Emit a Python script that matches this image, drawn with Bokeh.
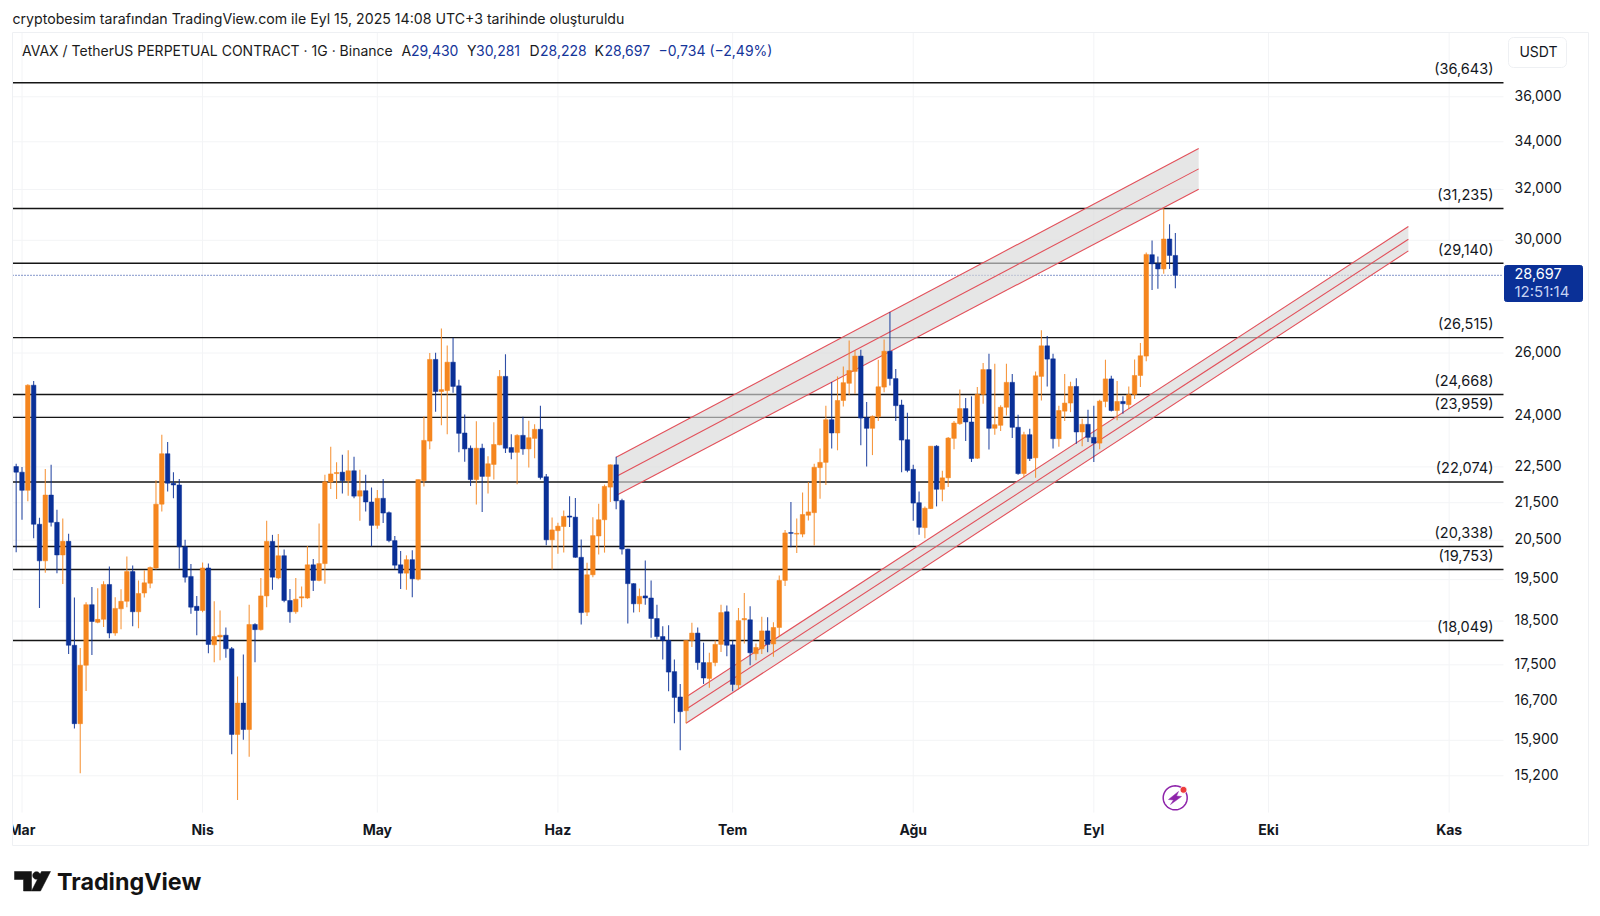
import numpy as np
from bokeh.plotting import figure
from bokeh.core.properties import value
from bokeh.models import (Range1d, FixedTicker, Label, BoxAnnotation, PolyAnnotation,
                          ColumnDataSource, LogScale)
from bokeh.embed import file_html
from bokeh.resources import INLINE

opens = [
22.51,22.35,21.84,24.96,20.92,19.97,21.71,20.97,20.12,20.47,
17.94,16.24,17.49,18.89,18.47,18.54,19.38,18.22,18.79,18.97,
19.70,18.72,19.17,19.41,19.79,21.46,22.88,22.04,21.99,20.33,
19.58,18.85,18.75,19.79,17.95,18.13,18.17,17.86,16.02,16.67,
16.12,18.42,18.30,19.10,20.47,19.54,20.10,18.99,18.72,19.05,
19.05,19.87,19.48,19.90,22.07,22.31,22.35,22.11,22.39,21.68,
21.83,21.52,20.89,21.62,21.23,20.49,19.87,19.66,20.00,19.51,
22.11,23.25,25.79,24.76,24.79,25.70,24.94,23.49,23.04,22.14,
23.04,22.23,22.57,23.14,25.24,23.06,22.92,23.42,23.02,23.33,
23.60,22.22,20.51,20.75,20.86,21.14,21.11,20.06,18.71,19.62,
20.61,21.04,21.93,22.56,21.56,20.27,19.40,18.91,19.10,19.05,
18.56,18.14,18.05,17.35,16.80,16.51,18.05,18.22,17.55,17.20,
17.55,17.96,18.72,17.95,17.06,18.53,18.53,17.75,17.86,18.27,
17.97,18.35,19.48,20.70,20.66,20.66,21.16,21.23,22.48,22.63,
23.89,23.49,24.48,25.02,25.40,25.90,23.95,23.63,23.98,24.90,
26.06,25.17,24.34,23.29,22.43,21.50,20.83,21.34,23.10,21.87,
22.19,23.33,23.77,24.23,23.82,22.75,24.67,25.46,23.63,23.72,
24.27,25.05,23.66,22.31,23.44,22.76,25.24,26.24,25.81,23.32,
24.15,24.40,24.92,23.52,23.75,23.36,23.19,24.45,25.16,24.17,
24.45,24.35,24.67,25.27,25.90,29.46,29.12,28.93,30.05,29.43]

closes = [
22.35,21.84,24.96,20.92,19.97,21.71,20.97,20.12,20.47,17.94,
16.24,17.49,18.89,18.49,18.54,19.38,18.22,18.80,18.97,19.70,
18.72,19.16,19.42,19.80,21.46,22.88,22.04,21.99,20.33,19.56,
18.83,18.75,19.79,17.96,18.14,18.17,17.86,16.02,16.67,16.12,
18.42,18.30,19.10,20.47,19.56,20.10,18.99,18.72,19.02,19.08,
19.87,19.48,19.90,22.08,22.30,22.34,22.11,22.39,21.68,21.83,
21.52,20.89,21.62,21.22,20.49,19.86,19.66,20.00,19.52,22.14,
23.27,25.79,24.76,24.82,25.70,24.92,23.48,23.02,22.14,23.04,
22.23,22.59,23.15,25.24,23.04,22.92,23.42,23.02,23.35,23.60,
22.20,20.51,20.77,20.87,21.13,21.11,20.06,18.70,19.62,20.62,
21.04,21.95,22.56,21.55,20.27,19.40,18.91,19.09,19.05,18.56,
18.14,18.05,17.34,16.79,16.49,18.05,18.22,17.55,17.21,17.55,
17.96,18.70,17.94,17.07,18.51,18.56,17.77,17.89,18.27,17.96,
18.35,19.48,20.69,20.68,20.68,21.18,21.25,22.49,22.63,23.89,
23.49,24.48,25.04,25.43,25.90,23.94,23.63,23.99,24.91,26.06,
25.17,24.32,23.28,22.40,21.49,20.84,21.35,23.10,21.87,22.19,
23.34,23.79,24.23,23.82,22.74,24.67,25.46,23.63,23.74,24.27,
25.05,23.66,22.31,23.44,22.74,25.26,26.24,25.80,23.32,24.17,
24.40,24.92,23.52,23.75,23.36,23.19,24.46,25.16,24.17,24.45,
24.38,24.66,25.27,25.91,29.47,29.12,28.93,30.05,29.43,28.70]

highs = [
22.59,22.50,24.99,25.09,21.09,22.44,22.56,21.31,21.07,20.67,
19.06,17.88,18.95,19.32,19.29,19.46,19.83,19.07,19.26,20.08,
19.85,19.48,19.73,19.83,22.12,23.44,23.22,22.35,22.16,20.51,
19.89,19.10,19.93,19.90,18.97,18.75,18.35,17.90,17.24,17.73,
18.89,18.45,19.54,21.01,20.64,20.66,20.26,19.27,19.54,19.33,
20.35,20.02,20.94,22.28,23.08,22.63,22.85,22.98,22.79,22.42,
22.28,21.92,21.85,22.16,21.26,20.61,20.22,20.11,20.24,22.14,
23.99,26.00,26.01,26.82,26.25,26.51,25.13,24.05,23.12,23.84,
23.17,22.81,23.81,25.45,25.96,23.45,23.45,23.98,23.86,23.75,
24.32,22.30,21.10,20.96,21.29,21.68,21.63,20.52,19.92,21.11,
21.47,22.00,22.57,22.79,21.61,20.28,19.41,19.28,19.98,19.48,
18.89,18.38,18.40,17.62,17.08,18.05,18.46,18.35,18.00,17.77,
18.05,18.89,18.87,18.05,18.81,19.17,18.85,17.98,18.60,18.59,
18.47,19.60,20.77,21.52,21.07,21.78,22.07,22.59,23.03,24.32,
25.06,25.24,25.56,26.42,26.09,26.11,24.43,24.02,25.78,26.45,
27.39,25.48,24.50,24.10,22.56,21.81,21.40,23.10,23.13,22.39,
23.37,23.85,24.82,24.56,24.61,24.90,25.67,25.98,25.65,24.33,
25.65,25.32,24.04,23.53,23.62,25.40,26.76,26.57,25.98,24.32,
25.32,25.07,25.18,23.92,24.19,24.32,24.50,25.78,25.26,25.09,
24.61,24.92,25.79,26.33,29.54,29.99,29.39,31.25,30.62,30.28]

lows = [
20.19,21.04,21.54,20.55,18.81,19.67,20.86,19.66,19.39,17.74,
16.14,15.25,16.93,17.72,18.45,18.36,18.10,18.16,18.31,18.83,
18.38,18.33,19.06,19.29,19.75,21.26,21.81,21.62,19.77,19.43,
18.67,18.17,18.71,17.76,17.56,17.60,17.66,15.62,14.74,15.91,
15.57,17.56,18.28,18.83,19.25,19.51,18.95,18.46,18.67,18.83,
19.03,19.22,19.46,19.40,21.88,21.60,21.75,21.69,21.62,21.01,
21.26,20.34,20.80,20.95,20.45,19.76,19.27,19.25,19.07,19.48,
21.95,23.01,24.13,23.72,23.45,24.72,22.92,22.65,21.96,21.45,
21.25,21.75,22.14,23.13,22.90,22.72,22.01,22.85,22.48,22.75,
22.14,20.37,19.75,20.15,20.18,20.85,20.05,18.42,18.62,19.56,
20.13,20.18,21.52,21.32,20.13,18.44,18.70,18.71,18.89,18.11,
18.07,17.62,16.92,16.25,15.70,16.25,17.90,17.39,17.08,17.00,
17.47,17.79,17.69,16.92,16.96,17.98,17.49,17.60,17.74,17.78,
17.68,18.13,19.34,20.32,20.17,20.58,21.02,20.36,21.61,21.99,
23.03,22.98,24.29,24.64,24.69,23.13,22.51,22.84,23.85,24.74,
24.95,23.85,22.35,22.35,21.01,20.64,20.55,21.33,21.40,21.54,
21.93,23.01,23.74,23.25,22.64,22.73,24.38,23.00,23.44,23.55,
24.02,23.34,22.28,22.20,22.67,22.19,24.48,24.92,23.03,23.08,
23.85,24.12,23.17,23.10,23.22,22.64,23.01,24.27,24.14,23.87,
24.07,24.22,24.53,24.90,25.73,28.17,28.21,28.75,28.93,28.23]

level_values = [36.643, 31.235, 29.140, 26.515, 24.668, 23.959, 22.074, 20.338, 19.753, 18.049]
level_labels = ["(36,643)", "(31,235)", "(29,140)", "(26,515)", "(24,668)", "(23,959)",
                "(22,074)", "(20,338)", "(19,753)", "(18,049)"]
price_ticks = [36, 34, 32, 30, 26, 24, 22.5, 21.5, 20.5, 19.5, 18.5, 17.5, 16.7, 15.9, 15.2]
price_tick_labels = ["36,000", "34,000", "32,000", "30,000", "26,000", "24,000", "22,500", "21,500",
                     "20,500", "19,500", "18,500", "17,500", "16,700", "15,900", "15,200"]
month_ticks = [1, 32, 62, 93, 123, 154, 185, 215, 246]
month_labels = ["Mar", "Nis", "May", "Haz", "Tem", "Ağu", "Eyl", "Eki", "Kas"]
last_price = 28.697

upper_x = [103, 203]
upper_top = [22.78, 33.71]
upper_mid = [22.23, 32.85]
upper_bot = [21.70, 32.01]
lower_x = [115, 239]
lower_top = [16.80, 30.53]
lower_mid = [16.54, 30.04]
lower_bot = [16.25, 29.60]

ORANGE = "#f5861f"
BLUE = "#0a3097"
RED = "#e2505a"
FONT = "Inter"
INK = "#131722"
GRID = "#f3f4f6"
EDGE = "#eef0f3"

# The drawing area fills the canvas; the chart pane sits at page pixels 12..1503 x 32..812.
W, H = 1592, 908
PANE_X = (-0.63, 255.33)      # candle index at the pane's left and right edges
PANE_Y = (14.506, 39.06)      # price at the pane's bottom and top edges
Y_START, Y_END = 12.843, 40.68
p = figure(width=W, height=H, output_backend="svg", toolbar_location=None,
           y_axis_type="log", y_axis_location="right",
           x_range=Range1d(-2.691, 270.61), y_range=Range1d(Y_START, Y_END),
           min_border_left=0, min_border_right=0, min_border_top=0, min_border_bottom=0)
p.background_fill_color = "white"
p.border_fill_color = "white"
p.outline_line_color = None
p.grid.visible = False

p.xaxis.fixed_location = PANE_Y[0]
p.xaxis.ticker = FixedTicker(ticks=month_ticks, minor_ticks=[])
p.xaxis.major_label_overrides = dict(zip(month_ticks, month_labels))
p.xaxis.major_label_text_font = FONT
p.xaxis.major_label_text_font_size = "14px"
p.xaxis.major_label_text_font_style = "bold"
p.xaxis.major_label_text_color = INK
p.xaxis.major_label_standoff = 2
p.xaxis.axis_line_color = None
p.xaxis.major_tick_line_color = None
p.xaxis.minor_tick_line_color = None

# the price labels sit about 1.7 px above their grid lines, so their axis has a slightly shifted range
LABEL_SHIFT = float(np.exp(1.7 / 787.6))
p.extra_y_ranges = {"labels": Range1d(Y_START / LABEL_SHIFT, Y_END / LABEL_SHIFT)}
p.extra_y_scales = {"labels": LogScale()}
p.yaxis.y_range_name = "labels"
p.yaxis.fixed_location = PANE_X[1]
p.yaxis.ticker = FixedTicker(ticks=price_ticks, minor_ticks=[])
p.yaxis.major_label_overrides = dict(zip(price_ticks, price_tick_labels))
p.yaxis.major_label_text_font = FONT
p.yaxis.major_label_text_font_size = "14px"
p.yaxis.major_label_text_color = INK
p.yaxis.major_label_standoff = 5
p.yaxis.axis_line_color = None
p.yaxis.major_tick_line_color = None
p.yaxis.minor_tick_line_color = None

# grid, limited to the pane
p.segment(month_ticks, [PANE_Y[0]] * len(month_ticks), month_ticks, [PANE_Y[1]] * len(month_ticks),
          line_color=GRID, line_width=1)
p.segment([PANE_X[0]] * len(price_ticks), price_ticks, [PANE_X[1]] * len(price_ticks), price_ticks,
          line_color=GRID, line_width=1)

# horizontal levels
p.segment([PANE_X[0]] * len(level_values), level_values, [PANE_X[1]] * len(level_values), level_values,
          line_color="#151515", line_width=1.4)
p.line(list(PANE_X), [last_price, last_price], line_color=BLUE, line_width=1, line_dash=[1, 2])

# channels
for xs, top, mid, bot in [(upper_x, upper_top, upper_mid, upper_bot),
                          (lower_x, lower_top, lower_mid, lower_bot)]:
    p.patch(xs + xs[::-1], top + bot[::-1], fill_color="#d9d9d9", fill_alpha=0.65, line_color=None)
    for ys in (top, mid, bot):
        p.line(xs, ys, line_color=RED, line_width=1.1)

# candles
idx = list(range(len(opens)))
colors = [ORANGE if c >= o else BLUE for o, c in zip(opens, closes)]
src = ColumnDataSource(dict(x=idx, o=opens, c=closes, h=highs, l=lows,
                            top=[max(a, b) for a, b in zip(opens, closes)],
                            bottom=[min(a, b) for a, b in zip(opens, closes)], color=colors))
p.segment("x", "h", "x", "l", source=src, line_color="color", line_width=1.1, line_alpha=0.85)
p.vbar("x", width=0.78, top="top", bottom="bottom", source=src, fill_color="color", line_color="color",
       line_width=0.5)

# level captions
lab_src = ColumnDataSource(dict(x=[253.6] * len(level_values), y=level_values, t=level_labels))
p.text("x", "y", text="t", source=lab_src, text_align="right", text_baseline="middle", y_offset=-14,
       text_font=value(FONT), text_font_size="14.5px", text_color=INK)


def sy(py):
    return H - py


def lab(text, px, py, size="14px", color=INK, style="normal", align="left", **kw):
    p.add_layout(Label(x=px, y=sy(py), x_units="screen", y_units="screen", text=text,
                       text_font=FONT, text_font_size=size, text_color=color, text_font_style=style,
                       text_align=align, text_baseline="middle", **kw))


def poly(pts, **kw):
    p.add_layout(PolyAnnotation(xs=[a for a, _ in pts], ys=[sy(b) for _, b in pts], line_alpha=1,
                                xs_units="screen", ys_units="screen", **kw))


def box(l, r, t, b, **kw):
    p.add_layout(BoxAnnotation(left=l, right=r, top=sy(t), bottom=sy(b), line_alpha=1,
                               left_units="screen", right_units="screen", top_units="screen", bottom_units="screen",
                               **kw))


# outer border
box(12, 1588, 32, 845, fill_alpha=0, line_color=EDGE, line_width=1)
# the first month label is cut by the pane's edge
box(0, 11.5, 815, 844, fill_color="white", fill_alpha=1, line_color=None)

# heading
lab("cryptobesim tarafından TradingView.com ile Eyl 15, 2025 14:08 UTC+3 tarihinde oluşturuldu", 12, 18,
    size="14.15px", color="#1b1b1b")
lab("AVAX / TetherUS PERPETUAL CONTRACT · 1G · Binance", 21.5, 50, color="#1b1b1b")
TXTB = "#15359a"
for t, x, c in [("A", 401, "#1b1b1b"), ("29,430", 410.5, TXTB), ("Y", 466.5, "#1b1b1b"), ("30,281", 475.5, TXTB),
                ("D", 529, "#1b1b1b"), ("28,228", 539.5, TXTB), ("K", 594, "#1b1b1b"), ("28,697", 604, TXTB),
                ("−0,734 (−2,49%)", 658, TXTB)]:
    lab(t, x, 50, color=c)

# currency button
box(1508, 1566, 37, 67, border_radius=5, fill_color="white", fill_alpha=1, line_color=EDGE, line_width=1)
lab("USDT", 1538, 51, align="center")

# last price tag
box(1504, 1582, 265, 301, border_radius=2, fill_color=BLUE, fill_alpha=1, line_color=BLUE)
lab("28,697", 1514, 273, size="14.5px", color="white")
lab("12:51:14", 1514, 290.5, size="15px", color="#c6d2f2")

# bolt icon
th = np.linspace(0, 2 * np.pi, 49)
poly(list(zip(1174.7 + 12 * np.cos(th), 797.3 + 12 * np.sin(th))), fill_alpha=0, line_color="#8e24aa", line_width=1.5)
poly([(1178, 791), (1168, 799), (1173, 799.5), (1170, 804), (1181, 796), (1176, 795.5)],
     fill_color="#8e24aa", fill_alpha=1, line_color="#8e24aa", line_width=0.5)
poly(list(zip(1183 + 3.4 * np.cos(th), 789.3 + 3.4 * np.sin(th))), fill_color="#ee3b3b", fill_alpha=1,
     line_color="white", line_width=1)

# logo
LOGO = "#131313"
poly([(14, 871), (31, 871), (31, 890.5), (23, 890.5), (23, 879), (14, 879)], fill_color=LOGO, fill_alpha=1, line_color=LOGO, line_width=0.5)
poly(list(zip(36 + 3.8 * np.cos(th), 875 + 3.8 * np.sin(th))), fill_color=LOGO, fill_alpha=1, line_color=LOGO, line_width=0.5)
poly([(41, 871), (50, 871), (40, 890.5), (31, 890.5)], fill_color=LOGO, fill_alpha=1, line_color=LOGO, line_width=0.5)
lab("TradingView", 56.5, 881, size="23.3px", color=LOGO, style="bold")

open("out.html", "w").write(file_html(p, INLINE))
